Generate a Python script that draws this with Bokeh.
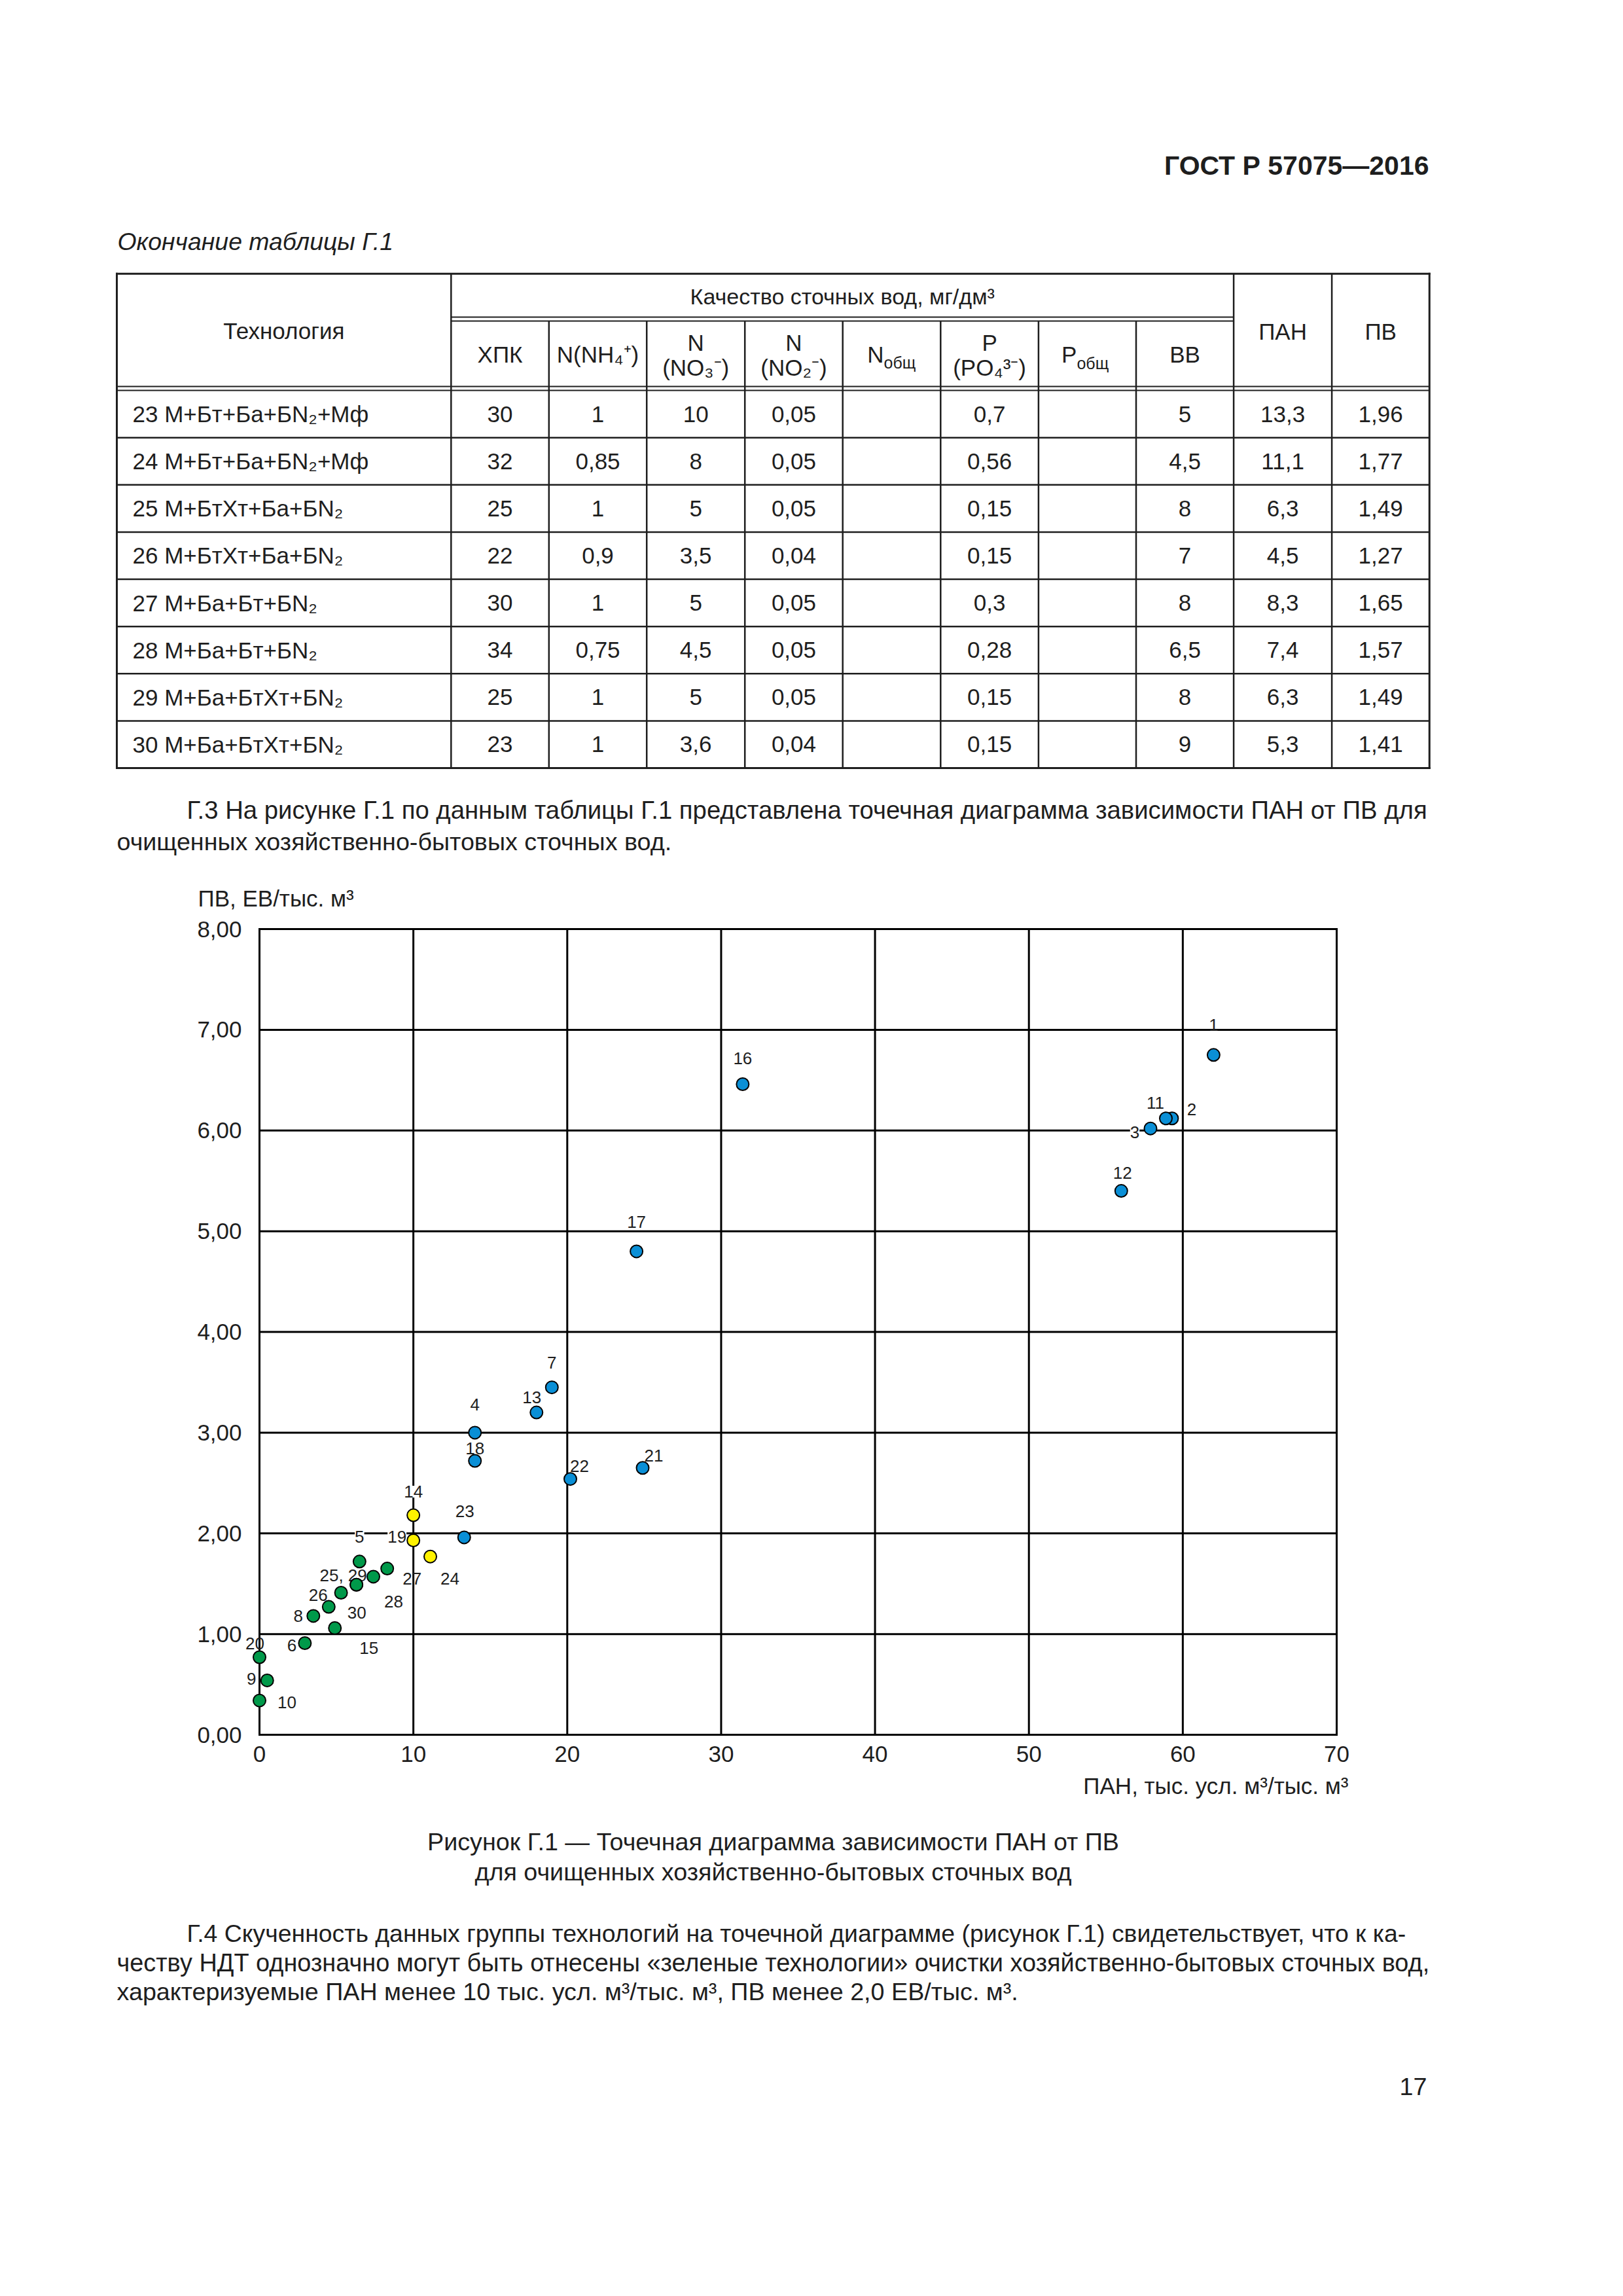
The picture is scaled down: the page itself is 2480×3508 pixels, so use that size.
from bokeh.plotting import figure
from bokeh.models import Range1d, LabelSet, ColumnDataSource
from bokeh.layouts import column
from bokeh.core.properties import value
from bokeh.embed import file_html
from bokeh.resources import INLINE

# ---------------- data ----------------
point_id = list(range(1, 31))
pan = [62.0, 59.3, 57.9, 14.0, 6.5, 2.95, 19.0, 3.5, 0.5, 0.0,
       58.9, 56.0, 18.0, 10.0, 4.9, 31.4, 24.5, 14.0, 10.0, 0.0,
       24.9, 20.2, 13.3, 11.1, 6.3, 4.5, 8.3, 7.4, 6.3, 5.3]
pv = [6.75, 6.12, 6.02, 3.00, 1.72, 0.91, 3.45, 1.18, 0.54, 0.34,
      6.12, 5.40, 3.20, 2.18, 1.06, 6.46, 4.80, 2.72, 1.93, 0.77,
      2.65, 2.54, 1.96, 1.77, 1.49, 1.27, 1.65, 1.57, 1.49, 1.41]
group = ["blue", "blue", "blue", "blue", "green", "green", "blue", "green", "green", "green",
         "blue", "blue", "blue", "yellow", "green", "blue", "blue", "blue", "yellow", "green",
         "blue", "blue", "blue", "yellow", "green", "green", "green", "green", "green", "green"]
point_label = [str(i) for i in point_id]
point_label[24] = "25, 29"
point_label[28] = ""

x_ticks = [0, 10, 20, 30, 40, 50, 60, 70]
y_ticks = [0, 1, 2, 3, 4, 5, 6, 7, 8]
y_tick_labels = ["0,00", "1,00", "2,00", "3,00", "4,00", "5,00", "6,00", "7,00", "8,00"]

tech = ["23 М+Бт+Ба+БN₂+Мф", "24 М+Бт+Ба+БN₂+Мф", "25 М+БтХт+Ба+БN₂", "26 М+БтХт+Ба+БN₂",
        "27 М+Ба+Бт+БN₂", "28 М+Ба+Бт+БN₂", "29 М+Ба+БтХт+БN₂", "30 М+Ба+БтХт+БN₂"]
hpk = ["30", "32", "25", "22", "30", "34", "25", "23"]
n_nh4 = ["1", "0,85", "1", "0,9", "1", "0,75", "1", "1"]
n_no3 = ["10", "8", "5", "3,5", "5", "4,5", "5", "3,6"]
n_no2 = ["0,05", "0,05", "0,05", "0,04", "0,05", "0,05", "0,05", "0,04"]
n_tot = ["", "", "", "", "", "", "", ""]
p_po4 = ["0,7", "0,56", "0,15", "0,15", "0,3", "0,28", "0,15", "0,15"]
p_tot = ["", "", "", "", "", "", "", ""]
vv = ["5", "4,5", "8", "7", "8", "6,5", "8", "9"]
pan_t = ["13,3", "11,1", "6,3", "4,5", "8,3", "7,4", "6,3", "5,3"]
pv_t = ["1,96", "1,77", "1,49", "1,27", "1,65", "1,57", "1,49", "1,41"]

# ---------------- styles / layout ----------------
FONT = "Liberation Sans"
INK = "#1e1e1e"
W = 2464
group_color = {"blue": "#0a8fd6", "green": "#00994a", "yellow": "#fff200"}
# label offsets (dx right, dy up) in screen px
label_offsets = {1: (0, 46), 2: (30, 14), 3: (-24, -6), 4: (0, 43), 5: (0, 38), 6: (-20, -4),
                 7: (0, 38), 8: (-23, 0), 9: (-24, 2), 10: (42, -3), 11: (-16, 24), 12: (2, 28),
                 13: (-7, 23), 14: (0, 36), 15: (52, -31), 16: (0, 39), 17: (0, 45), 18: (0, 19),
                 19: (-25, 6), 20: (-7, 21), 21: (17, 19), 22: (14, 20), 23: (1, 40), 24: (30, -34),
                 25: (-20, 14), 26: (-16, 18), 27: (38, -15), 28: (31, -38), 29: (0, 0), 30: (24, -30)}
white_bg = {3, 5, 14, 19}


def page_fig(y_top, y_bottom):
    p = figure(width=W, height=int(y_bottom - y_top), x_range=Range1d(0, W),
               y_range=Range1d(y_bottom, y_top), output_backend="svg", toolbar_location=None,
               min_border=0, x_axis_location=None, y_axis_location=None)
    p.frame_align = False
    p.grid.grid_line_color = None
    p.outline_line_color = None
    p.background_fill_color = "white"
    p.border_fill_color = "white"
    return p


def txt(p, x, y, s, size=37.7, align="left", style="normal"):
    p.text(x=[x], y=[y], text=[s], text_font=value(FONT), text_font_size=value(f"{size}px"),
           text_align=align, text_baseline="middle", text_font_style=style, text_color=INK)


# ---------------- top part: header, table, paragraph ----------------
TOP_END = 1397
pa = page_fig(0, TOP_END)
txt(pa, 2183, 252, "ГОСТ Р 57075—2016", size=41, align="right", style="bold")
txt(pa, 179, 368, "Окончание таблицы Г.1", size=37.4, style="italic")

col_edges = [178, 688.8, 838.3, 987.7, 1137.7, 1287.2, 1436.8, 1586.4, 1735.5, 1884.6, 2034.6, 2183.75]
t_top, sub1, sub2, hb1, hb2, t_bot = 417.7, 484, 490, 590, 596, 1173
n_rows = len(tech)
row_h = (t_bot - hb2) / n_rows

pa.segment(x0=[col_edges[0], col_edges[0], col_edges[0], col_edges[-1]],
           y0=[t_top, t_bot, t_top, t_top],
           x1=[col_edges[-1], col_edges[-1], col_edges[0], col_edges[-1]],
           y1=[t_top, t_bot, t_bot, t_bot], line_color=INK, line_width=3, line_cap="square")
full_v = [col_edges[1], col_edges[9], col_edges[10]]
pa.segment(x0=full_v, y0=[t_top] * 3, x1=full_v, y1=[t_bot] * 3, line_color=INK, line_width=2.5)
sub_v = col_edges[2:9]
pa.segment(x0=sub_v, y0=[sub2] * len(sub_v), x1=sub_v, y1=[t_bot] * len(sub_v),
           line_color=INK, line_width=2.5)
pa.segment(x0=[col_edges[1], col_edges[1]], y0=[sub1, sub2], x1=[col_edges[9], col_edges[9]],
           y1=[sub1, sub2], line_color=INK, line_width=2)
pa.segment(x0=[col_edges[0], col_edges[0]], y0=[hb1, hb2], x1=[col_edges[-1], col_edges[-1]],
           y1=[hb1, hb2], line_color=INK, line_width=2)
row_y = [hb2 + row_h * (i + 1) for i in range(n_rows - 1)]
pa.segment(x0=[col_edges[0]] * len(row_y), y0=row_y, x1=[col_edges[-1]] * len(row_y), y1=row_y,
           line_color=INK, line_width=2.5)

cc = [(col_edges[i] + col_edges[i + 1]) / 2 for i in range(len(col_edges) - 1)]
TS = 35
txt(pa, cc[0], 505, "Технология", TS, "center")
txt(pa, (col_edges[1] + col_edges[9]) / 2, 452, "Качество сточных вод, мг/дм³", 34, "center")
txt(pa, cc[1], 541, "ХПК", TS, "center")
txt(pa, cc[2], 541, "N(NH₄⁺)", TS, "center")
txt(pa, cc[3], 523, "N", TS, "center")
txt(pa, cc[3], 561, "(NO₃⁻)", TS, "center")
txt(pa, cc[4], 523, "N", TS, "center")
txt(pa, cc[4], 561, "(NO₂⁻)", TS, "center")
txt(pa, cc[5] - 12, 541, "N", TS, "right")
txt(pa, cc[5] - 12, 553, "общ", 25, "left")
txt(pa, cc[6], 523, "P", TS, "center")
txt(pa, cc[6], 561, "(PO₄³⁻)", TS, "center")
txt(pa, cc[7] - 16, 541, "P", TS, "right")
txt(pa, cc[7] - 16, 554, "общ", 25, "left")
txt(pa, cc[8], 541, "ВВ", TS, "center")
txt(pa, cc[9], 506, "ПАН", TS, "center")
txt(pa, cc[10], 506, "ПВ", TS, "center")

row_cy = [hb2 + row_h * (i + 0.5) for i in range(n_rows)]
pa.text(x=[202] * n_rows, y=row_cy, text=tech, text_font=value(FONT), text_font_size=value(f"{TS}px"),
        text_align="left", text_baseline="middle", text_color=INK)
for ci, colvals in enumerate([hpk, n_nh4, n_no3, n_no2, n_tot, p_po4, p_tot, vv, pan_t, pv_t], start=1):
    pa.text(x=[cc[ci]] * n_rows, y=row_cy, text=colvals, text_font=value(FONT),
            text_font_size=value(f"{TS}px"), text_align="center", text_baseline="middle", text_color=INK)

txt(pa, 285, 1237, "Г.3 На рисунке Г.1 по данным таблицы Г.1 представлена точечная диаграмма зависимости ПАН от ПВ для", 38.3)
txt(pa, 178, 1285, "очищенных хозяйственно-бытовых сточных вод.")
txt(pa, 302, 1372, "ПВ, ЕВ/тыс. м³", 35)

# ---------------- chart ----------------
CH_TOP, CH_BOT = TOP_END, 2708
X0P, X70P, Y8P, Y0P = 396, 2042, 1419, 2650          # page px of the axis box corners
FR_L, FR_R, FR_T, FR_B = 371, 2045, 1416, 2660       # page px of the (slightly larger) frame
PXX = (X70P - X0P) / (x_ticks[-1] - x_ticks[0])
PXY = (Y0P - Y8P) / (y_ticks[-1] - y_ticks[0])
pc = figure(width=W, height=CH_BOT - CH_TOP,
            x_range=Range1d(x_ticks[0] - (X0P - FR_L) / PXX, x_ticks[-1] + (FR_R - X70P) / PXX),
            y_range=Range1d(y_ticks[0] - (FR_B - Y0P) / PXY, y_ticks[-1] + (Y8P - FR_T) / PXY),
            output_backend="svg", toolbar_location=None,
            min_border_left=FR_L, min_border_right=W - FR_R,
            min_border_top=FR_T - CH_TOP, min_border_bottom=CH_BOT - FR_B)
pc.frame_align = False
pc.background_fill_color = "white"
pc.border_fill_color = "white"
pc.outline_line_color = None
pc.grid.grid_line_color = None
pc.xaxis.ticker = x_ticks
pc.yaxis.ticker = y_ticks
pc.yaxis.major_label_overrides = {t: l for t, l in zip(y_ticks, y_tick_labels)}
for ax in (pc.xaxis, pc.yaxis):
    ax.axis_line_color = None
    ax.major_tick_line_color = None
    ax.minor_tick_line_color = None
    ax.major_tick_in = 0
    ax.major_tick_out = 0
    ax.major_label_text_font = FONT
    ax.major_label_text_font_size = "35px"
    ax.major_label_text_color = INK
pc.yaxis.major_label_standoff = 2
pc.xaxis.major_label_standoff = 7

# grid box drawn at the tick positions
nx, ny = len(x_ticks), len(y_ticks)
pc.segment(x0=x_ticks, y0=[y_ticks[0]] * nx, x1=x_ticks, y1=[y_ticks[-1]] * nx,
           line_color="black", line_width=3, line_cap="square")
pc.segment(x0=[x_ticks[0]] * ny, y0=y_ticks, x1=[x_ticks[-1]] * ny, y1=y_ticks,
           line_color="black", line_width=3, line_cap="square")


def label_data(ids):
    d = {"x": [], "y": [], "t": [], "dx": [], "dy": [], "ndy": []}
    for i, pid in enumerate(point_id):
        if pid in ids and point_label[i]:
            d["x"].append(pan[i]); d["y"].append(pv[i]); d["t"].append(point_label[i])
            d["dx"].append(label_offsets[pid][0]); d["dy"].append(label_offsets[pid][1])
            d["ndy"].append(-label_offsets[pid][1])
    return ColumnDataSource(d)


plain_ids = set(point_id) - white_bg
pc.text(x="x", y="y", text="t", x_offset="dx", y_offset="ndy", source=label_data(plain_ids),
        text_font=value(FONT), text_font_size=value("26px"), text_align="center",
        text_baseline="middle", text_color=INK)

for g in ["blue", "green", "yellow"]:
    xs = [pan[i] for i in range(len(pan)) if group[i] == g]
    ys = [pv[i] for i in range(len(pv)) if group[i] == g]
    pc.scatter(xs, ys, size=19, fill_color=group_color[g], line_color="black", line_width=2)

pc.add_layout(LabelSet(x="x", y="y", text="t", x_offset="dx", y_offset="dy",
                       source=label_data(white_bg), text_font=value(FONT),
                       text_font_size=value("26px"), text_align="center", text_baseline="middle",
                       text_color=INK, background_fill_color="white"))

# ---------------- bottom part ----------------
pb = page_fig(CH_BOT, 3250)
txt(pb, 2060, 2728, "ПАН, тыс. усл. м³/тыс. м³", 35, "right")
txt(pb, 1181, 2813, "Рисунок Г.1 — Точечная диаграмма зависимости ПАН от ПВ", 37.7, "center")
txt(pb, 1181, 2859, "для очищенных хозяйственно-бытовых сточных вод", 37.7, "center")
txt(pb, 285, 2953, "Г.4 Скученность данных группы технологий на точечной диаграмме (рисунок Г.1) свидетельствует, что к ка-", 37.4)
txt(pb, 178, 2998, "честву НДТ однозначно могут быть отнесены «зеленые технологии» очистки хозяйственно-бытовых сточных вод,", 37.9)
txt(pb, 178, 3042, "характеризуемые ПАН менее 10 тыс. усл. м³/тыс. м³, ПВ менее 2,0 ЕВ/тыс. м³.")
txt(pb, 2180, 3187, "17", 37.7, "right")

layout = column(pa, pc, pb, spacing=0)
open("out.html", "w").write(file_html(layout, INLINE))
